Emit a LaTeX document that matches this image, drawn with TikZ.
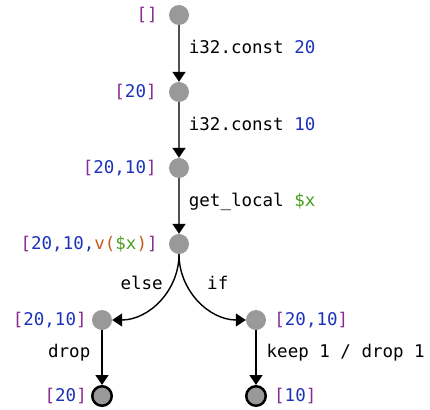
\documentclass[tikz,border=0pt]{standalone}
\usepackage{fontspec}
\setmonofont{DejaVu Sans Mono}
\usepackage{xcolor}
\usetikzlibrary{arrows.meta,positioning}
\definecolor{stkpurple}{RGB}{138,43,148}
\definecolor{numblue}{RGB}{28,50,185}
\definecolor{valorange}{RGB}{198,90,30}
\definecolor{varggreen}{RGB}{70,158,30}
\definecolor{statefill}{RGB}{153,153,153}
\definecolor{edgegray}{RGB}{80,80,80}
\newcommand{\stk}[1]{\textcolor{stkpurple}{[}#1\textcolor{stkpurple}{]}}
\newcommand{\nm}[1]{\textcolor{numblue}{#1}}
\newcommand{\lv}[1]{\textcolor{varggreen}{#1}}

\begin{document}
\begin{tikzpicture}[x=1pt, y=1pt,
  font=\ttfamily\fontsize{17.5}{20}\selectfont,
  state/.style={circle, fill=statefill, inner sep=0pt, minimum size=20pt},
  final/.style={state, draw=black, line width=2.5pt, minimum size=19.5pt},
  stack/.style={inner sep=0pt},
  instr/.style={inner sep=0pt},
  flow/.style={-{Triangle[length=10pt, width=13pt, black]}, line width=1.8pt, draw=edgegray},
  br/.style={-{Triangle[length=10pt, width=13pt]}, line width=1.4pt, draw=black}]
\useasboundingbox (0,0) rectangle (430,-409);
% states of the operand stack
\node[state] (s0) at (179,-15)  {};
\node[state] (s1) at (179,-92)  {};
\node[state] (s2) at (179,-168) {};
\node[state] (s3) at (179,-244) {};
\node[state] (el) at (102,-320) {};
\node[state] (th) at (256,-320) {};
\node[final] (eb) at (102,-396) {};
\node[final] (tb) at (256,-396) {};
% stack contents
\node[stack, left=11pt of s0] (l0) {\stk{}};
\node[stack, left=12pt of s1] (l1) {\stk{\nm{20}}};
\node[stack, left=12pt of s2] (l2) {\stk{\nm{20,10}}};
\node[stack, left=11pt of s3] (l3) {\stk{\nm{20,10,}\textcolor{valorange}{v(}\lv{\$x}\textcolor{valorange}{)}}};
\node[stack, left=5pt of el]  (le) {\stk{\nm{20,10}}};
\node[stack, right=8pt of th] (lt) {\stk{\nm{20,10}}};
\node[stack, left=4pt of eb]  (lbe) {\stk{\nm{20}}};
\node[stack, right=7pt of tb] (lbt) {\stk{\nm{10}}};
% instructions
\draw[flow] (s0) -- node[instr, anchor=base west, xshift=9pt]{i32.const \nm{20}} (s1);
\draw[flow] (s1) -- node[instr, anchor=base west, xshift=9pt]{i32.const \nm{10}} (s2);
\draw[flow] (s2) -- node[instr, anchor=base west, xshift=9pt]{get\_local \lv{\$x}} (s3);
\draw[br] (s3.south) to[out=-90, in=0]
  node[instr, pos=.3, anchor=base east, xshift=-8pt, yshift=-5pt]{else} (el.east);
\draw[br] (s3.south) to[out=-90, in=180]
  node[instr, pos=.3, anchor=base west, xshift=20pt, yshift=-5pt]{if} (th.west);
\draw[br] (el) -- node[instr, anchor=base east, xshift=-11pt]{drop} (eb);
\draw[br] (th) -- node[instr, anchor=base west, xshift=10pt]{keep 1 / drop 1} (tb);
\end{tikzpicture}
\end{document}
